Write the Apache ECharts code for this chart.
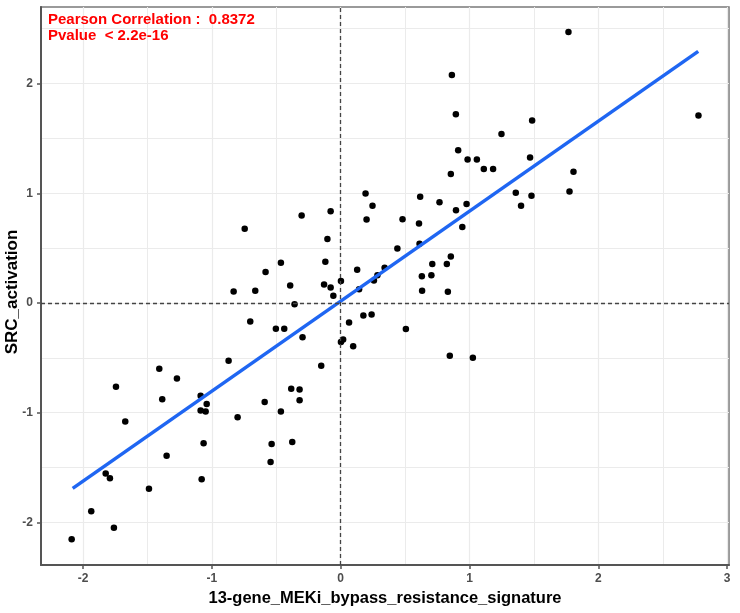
<!DOCTYPE html>
<html>
<head>
<meta charset="utf-8">
<script src="https://cdn.jsdelivr.net/npm/echarts@6/dist/echarts.min.js"></script>
<style>
html,body{margin:0;padding:0;background:#fff;}
#chart{width:740px;height:613px;}
</style>
</head>
<body>
<div id="chart"></div>
<script>
// x: 13-gene_MEKi_bypass_resistance_signature, y: SRC_activation
var xValues = [1.768,0.863,0.894,1.486,2.777,1.248,0.912,0.985,1.057,1.470,1.111,1.183,0.855,1.807,1.776,1.359,1.481,1.400,0.617,0.247,
  0.193,0.201,0.767,0.977,0.895,0.480,0.608,0.944,0.440,0.612,0.855,0.824,0.711,0.704,0.630,0.632,0.832,0.341,0.285,0.258,
  0.128,0.143,0.002,-0.057,-0.078,-0.129,-0.119,-0.103,-0.078,-0.303,-0.464,-0.392,-0.358,-0.583,-0.663,-0.831,-0.745,0.176,0.240,0.065,
  0.019,0.002,0.097,0.506,0.847,1.026,-0.702,-0.503,-0.438,-0.296,-0.870,-0.151,-1.408,-1.271,-1.744,-1.385,-1.087,-1.040,-1.087,-1.048,
  -0.590,-0.384,-0.319,-0.319,-0.464,-1.672,-0.800,-1.064,-0.536,-0.376,-1.351,-0.544,-1.824,-1.791,-1.079,-1.488,-1.936,-1.760,-2.088];
var yValues = [2.470,2.078,1.720,1.663,1.708,1.541,1.392,1.308,1.308,1.326,1.222,1.222,1.176,1.195,1.016,1.005,0.978,0.885,0.969,0.885,
  0.998,0.761,0.918,0.903,0.844,0.762,0.724,0.693,0.497,0.540,0.424,0.356,0.356,0.253,0.244,0.112,0.101,0.322,0.253,0.205,
  0.302,0.126,0.199,0.065,0.141,0.169,0.376,0.583,0.836,0.798,0.367,0.158,-0.011,0.282,0.112,0.105,0.677,-0.114,-0.105,-0.179,
  -0.333,-0.357,-0.395,-0.237,-0.482,-0.500,-0.169,-0.236,-0.236,-0.312,-0.528,-0.573,-0.600,-0.688,-0.764,-0.877,-0.846,-0.922,-0.980,-0.989,
  -0.904,-0.783,-0.788,-0.886,-0.989,-1.080,-1.043,-1.280,-1.287,-1.268,-1.393,-1.451,-1.554,-1.599,-1.608,-1.694,-1.900,-2.049,-2.155];
// fitted line endpoints
var fitX = [-2.08, 2.775];
var fitY = [-1.690, 2.294];
var xMajorTicks = [-2,-1,0,1,2,3];
var xMinorTicks = [-1.5,-0.5,0.5,1.5,2.5];
var yMajorTicks = [-2,-1,0,1,2];
var yMinorTicks = [-1.5,-0.5,0.5,1.5,2.5];
var xRange = [-2.326, 3.014];
var yRange = [-2.389, 2.698];
var annotation = ['Pearson Correlation :  0.8372', 'Pvalue  < 2.2e-16'];
var xTitle = '13-gene_MEKi_bypass_resistance_signature';
var yTitle = 'SRC_activation';

var points = xValues.map(function(x,i){return [x, yValues[i]];});
var fitLine = fitX.map(function(x,i){return [x, fitY[i]];});

var gridColor = '#ebebeb';
var labelStyle = {color:'#4d4d4d', fontSize:12, fontWeight:'bold', fontFamily:'Liberation Sans, Arial, sans-serif'};

var chart = echarts.init(document.getElementById('chart'));
chart.setOption({
  animation:false,
  backgroundColor:'#fff',
  grid:{left:41, right:11, top:7, bottom:48, show:true, borderColor:'#7a7a7a', borderWidth:1.5, containLabel:false, outerBoundsMode:'none'},
  xAxis:[{
    type:'value', min:xRange[0], max:xRange[1], position:'bottom',
    name:xTitle, nameLocation:'middle', nameGap:24,
    nameTextStyle:{color:'#000', fontSize:16.5, fontWeight:'bold', fontFamily:'Liberation Sans, Arial, sans-serif'},
    axisLine:{show:true, onZero:false, lineStyle:{color:'#555', width:2}},
    axisTick:{show:true, length:4, customValues:xMajorTicks, lineStyle:{color:'#555', width:1.5}},
    axisLabel:Object.assign({customValues:xMajorTicks, margin:8}, labelStyle),
    splitLine:{show:true, lineStyle:{color:gridColor, width:1.2}}
  },{
    type:'value', min:xRange[0], max:xRange[1], position:'bottom',
    axisLine:{show:false}, axisLabel:{show:false},
    axisTick:{show:false, customValues:xMinorTicks},
    splitLine:{show:true, lineStyle:{color:gridColor, width:1}}
  }],
  yAxis:[{
    type:'value', min:yRange[0], max:yRange[1], position:'left',
    name:yTitle, nameLocation:'middle', nameGap:20, nameMoveOverlap:false,
    nameTextStyle:{color:'#000', fontSize:17, fontWeight:'bold', fontFamily:'Liberation Sans, Arial, sans-serif', padding:[0,12,0,0]},
    axisLine:{show:true, onZero:false, lineStyle:{color:'#555', width:2}},
    axisTick:{show:true, length:4, customValues:yMajorTicks, lineStyle:{color:'#555', width:1.5}},
    axisLabel:Object.assign({customValues:yMajorTicks, margin:8}, labelStyle),
    splitLine:{show:true, lineStyle:{color:gridColor, width:1.2}}
  },{
    type:'value', min:yRange[0], max:yRange[1], position:'left',
    axisLine:{show:false}, axisLabel:{show:false},
    axisTick:{show:false, customValues:yMinorTicks},
    splitLine:{show:true, lineStyle:{color:gridColor, width:1}}
  }],
  graphic:[{
    type:'text', left:48, top:12, z:100,
    style:{text:annotation.join('\n'), fill:'#ff0000', font:'bold 15px "Liberation Sans", Arial, sans-serif', lineHeight:16}
  }],
  series:[{
    type:'scatter', xAxisIndex:0, yAxisIndex:0, data:points, symbolSize:6.5,
    itemStyle:{color:'#000', opacity:1}, z:3,
    markLine:{silent:true, symbol:['none','none'], label:{show:false},
      lineStyle:{color:'#444', type:[4,3], width:1.3},
      data:[{xAxis:0},{yAxis:0}]}
  },{
    type:'line', xAxisIndex:0, yAxisIndex:0, data:fitLine, showSymbol:false, symbol:'none',
    lineStyle:{color:'#1f66f2', width:3.5}, z:4
  }]
});
</script>
</body>
</html>
